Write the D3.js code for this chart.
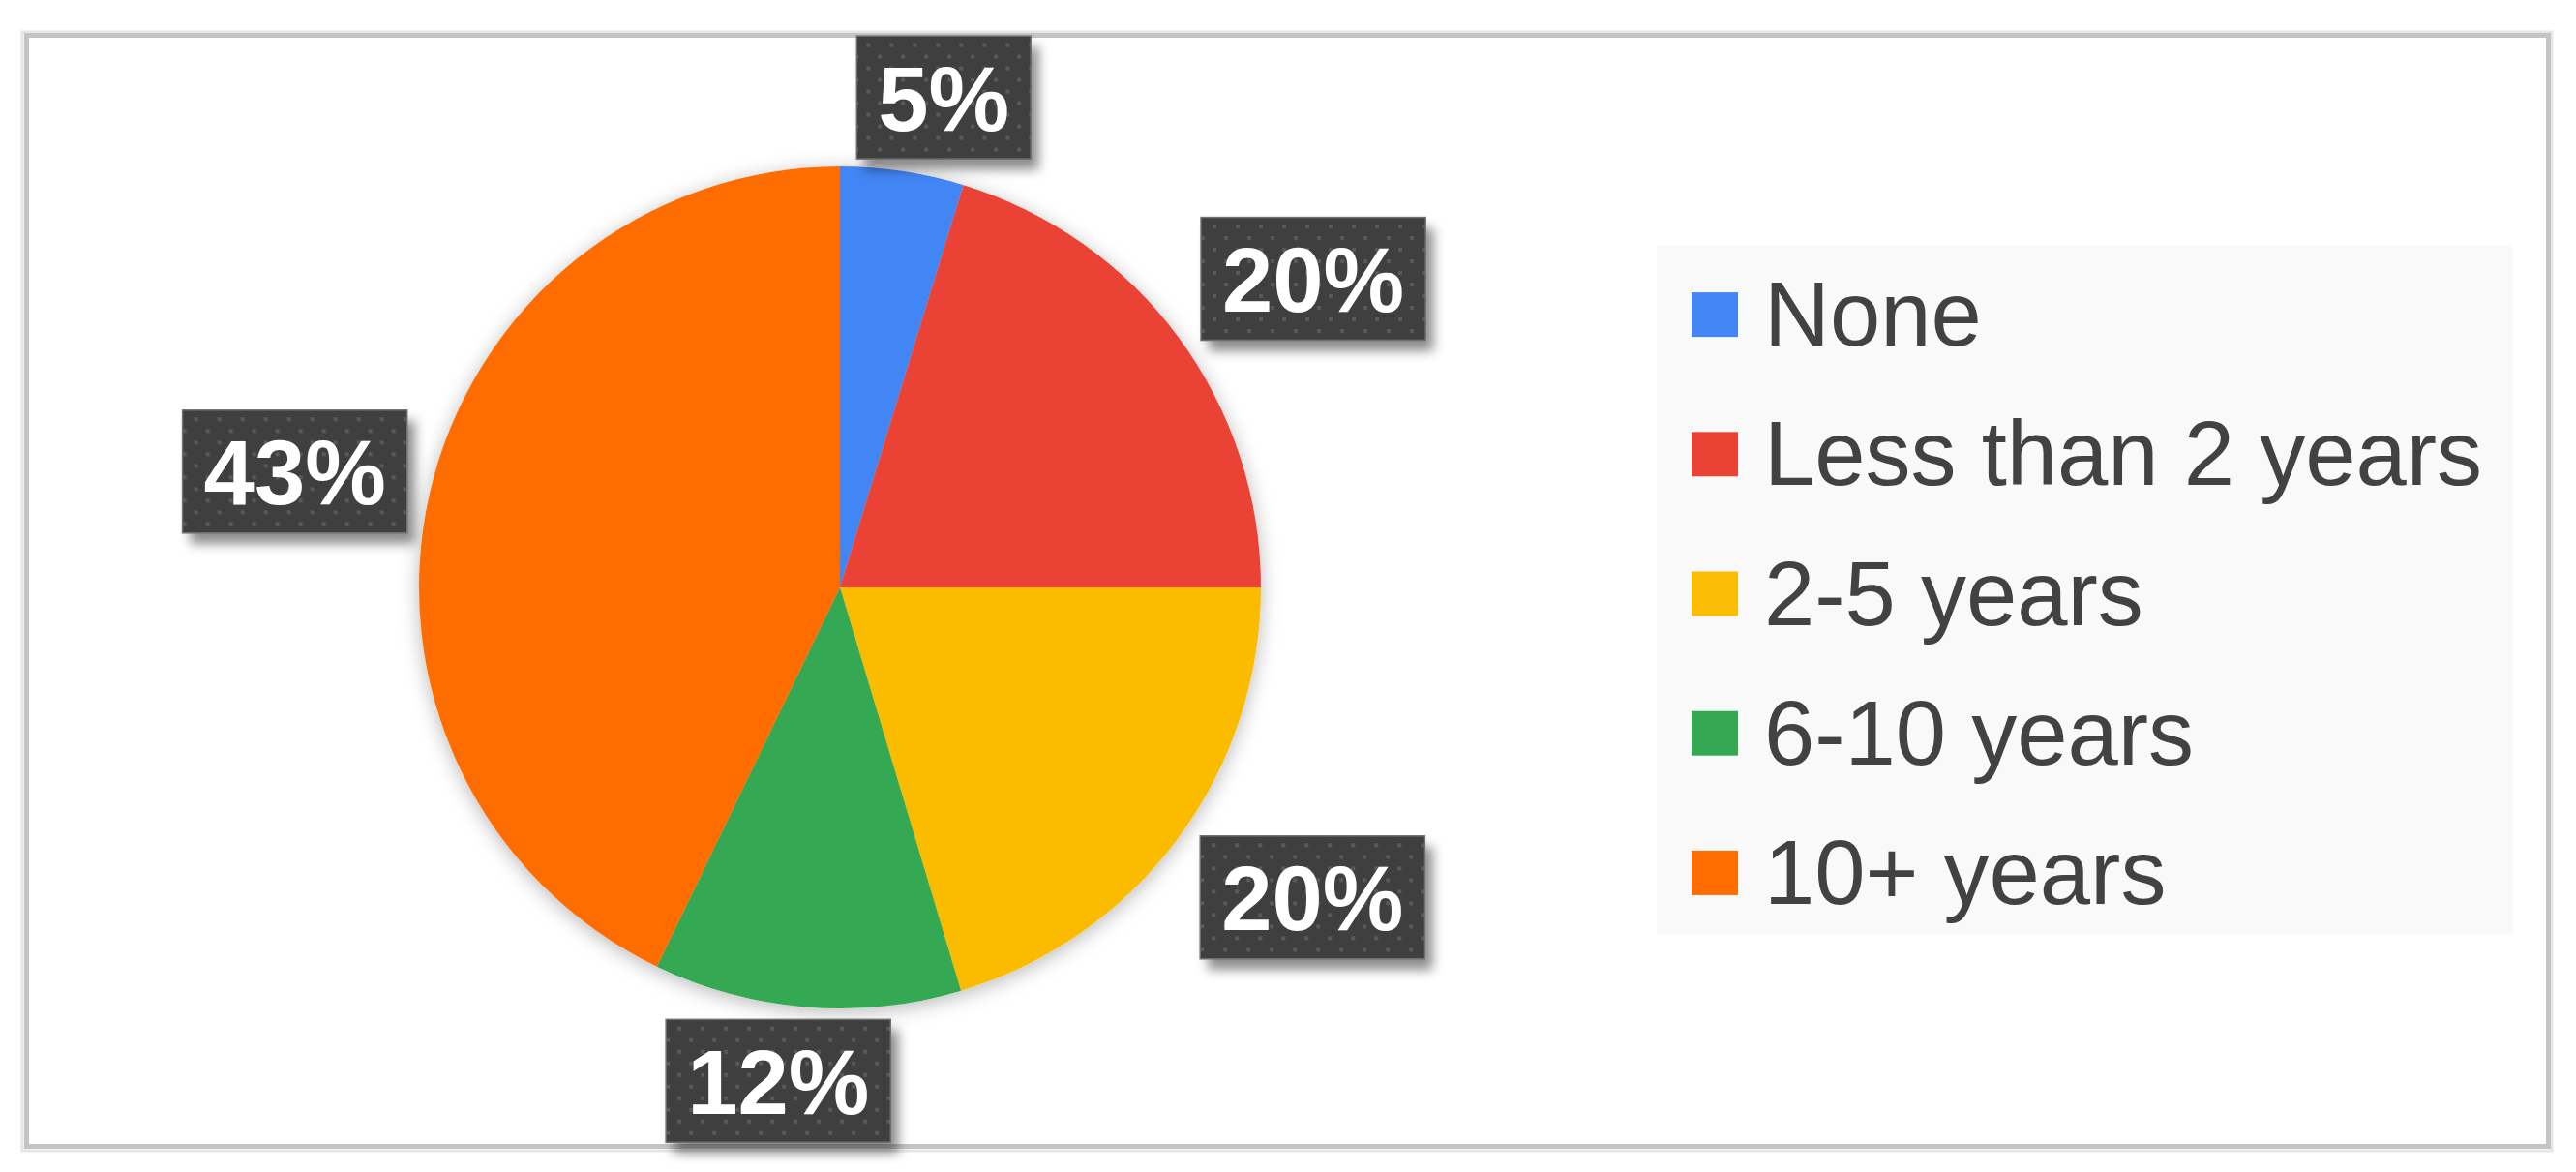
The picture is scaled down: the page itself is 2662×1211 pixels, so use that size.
<!DOCTYPE html>
<html>
<head>
<meta charset="utf-8">
<title>Years of experience</title>
<style>
  html, body { margin: 0; padding: 0; background: #fff; }
  svg { display: block; }
  .legend text { font: 94px "Liberation Sans", Arial, sans-serif; fill: #424242; }
  .label text { font: bold 94px "Liberation Sans", Arial, sans-serif; fill: #fff; }
</style>
</head>
<body>
<svg></svg>
<script src="https://d3js.org/d3.v7.min.js"></script>
<script>
  // data (percent of respondents)
  const categories = ["None", "Less than 2 years", "2-5 years", "6-10 years", "10+ years"];
  const values = [4.74, 20.26, 20.36, 11.8, 42.84];
  const colors = ["#4285f4", "#ea4335", "#fbbc04", "#34a853", "#ff6d01"];

  const width = 2662, height = 1211;
  const cx = 868, cy = 607, radius = 435;

  const svg = d3.select("svg").attr("width", width).attr("height", height);
  const defs = svg.append("defs");

  // soft shadow round the pie
  const pieShadow = defs.append("filter").attr("id", "pieShadow")
    .attr("x", "-20%").attr("y", "-20%").attr("width", "140%").attr("height", "140%");
  pieShadow.append("feDropShadow")
    .attr("dx", 0).attr("dy", 4).attr("stdDeviation", 10)
    .attr("flood-color", "#000").attr("flood-opacity", 0.28);

  // shadow under the label boxes
  const boxShadow = defs.append("filter").attr("id", "boxShadow")
    .attr("x", "-20%").attr("y", "-20%").attr("width", "150%").attr("height", "160%");
  boxShadow.append("feDropShadow")
    .attr("dx", 8).attr("dy", 11).attr("stdDeviation", 6)
    .attr("flood-color", "#000").attr("flood-opacity", 0.45);

  // dotted texture of the label boxes
  const dots = defs.append("pattern").attr("id", "dots")
    .attr("patternUnits", "userSpaceOnUse").attr("width", 24).attr("height", 24);
  dots.append("rect").attr("width", 24).attr("height", 24).attr("fill", "#3f3f3f");
  dots.append("rect").attr("x", 4).attr("y", 4).attr("width", 4).attr("height", 4).attr("fill", "#595959");
  dots.append("rect").attr("x", 16).attr("y", 16).attr("width", 4).attr("height", 4).attr("fill", "#595959");

  // outer frame
  svg.append("rect")
    .attr("x", 23).attr("y", 33).attr("width", 2614).attr("height", 1156)
    .attr("fill", "none").attr("stroke", "#e6e6e6").attr("stroke-width", 3);
  svg.append("rect")
    .attr("x", 27.5).attr("y", 36.5).attr("width", 2606).attr("height", 1148)
    .attr("fill", "#fff").attr("stroke", "#c4c4c4").attr("stroke-width", 5);

  const color = d3.scaleOrdinal().domain(categories).range(colors);

  const pie = d3.pie().sort(null).value(d => d.value);
  const arcs = pie(categories.map((c, i) => ({ name: c, value: values[i] })));
  const arc = d3.arc().innerRadius(0).outerRadius(radius);

  const gPie = svg.append("g")
    .attr("transform", `translate(${cx},${cy})`)
    .attr("filter", "url(#pieShadow)");

  gPie.selectAll("path")
    .data(arcs)
    .join("path")
    .attr("d", arc)
    .attr("fill", d => color(d.data.name));

  // legend
  const legendX = 1712, legendY = 253, legendW = 885, legendH = 712;
  const gLegend = svg.append("g").attr("class", "legend");
  gLegend.append("rect")
    .attr("x", legendX).attr("y", legendY)
    .attr("width", legendW).attr("height", legendH)
    .attr("fill", "#f9f9f9");

  const rowY = d3.scaleBand().domain(categories).range([250, 971]);

  const item = gLegend.selectAll("g.item")
    .data(categories)
    .join("g")
    .attr("class", "item")
    .attr("transform", d => `translate(0,${rowY(d) + rowY.bandwidth() / 2})`);

  item.append("rect")
    .attr("x", 1748).attr("y", -20)
    .attr("width", 48).attr("height", 46)
    .attr("fill", d => color(d));

  item.append("text")
    .attr("x", 1823).attr("y", 35)
    .text(d => d);

  // percentage labels outside the pie
  const fmt = d3.format(".0f");
  const gLabels = svg.append("g");
  // how far the box is pushed away from the rim, per axis
  const push = (s, k) => Math.max(-1.2, Math.min(1.2, s * k));

  arcs.forEach(d => {
    const g = gLabels.append("g").attr("class", "label");
    const t = g.append("text")
      .attr("text-anchor", "middle")
      .attr("y", 34)
      .text(fmt(d.data.value) + "%");
    const tw = t.node().getComputedTextLength();
    const w = tw + 44, h = 127;

    const a = (d.startAngle + d.endAngle) / 2;
    const sx = Math.sin(a), sy = -Math.cos(a);
    const px = cx + sx * radius, py = cy + sy * radius;
    const lx = px + push(sx, 3.2) * w / 2;
    const ly = py + push(sy, 1.6) * h / 2;

    g.attr("transform", `translate(${lx},${ly})`);
    g.insert("rect", "text")
      .attr("x", -w / 2).attr("y", -h / 2)
      .attr("width", w).attr("height", h)
      .attr("fill", "#3f3f3f")
      .attr("filter", "url(#boxShadow)");
    g.insert("rect", "text")
      .attr("x", -w / 2).attr("y", -h / 2)
      .attr("width", w).attr("height", h)
      .attr("fill", "url(#dots)")
      .attr("stroke", "#707070").attr("stroke-width", 1.5);
  });
</script>
</body>
</html>
